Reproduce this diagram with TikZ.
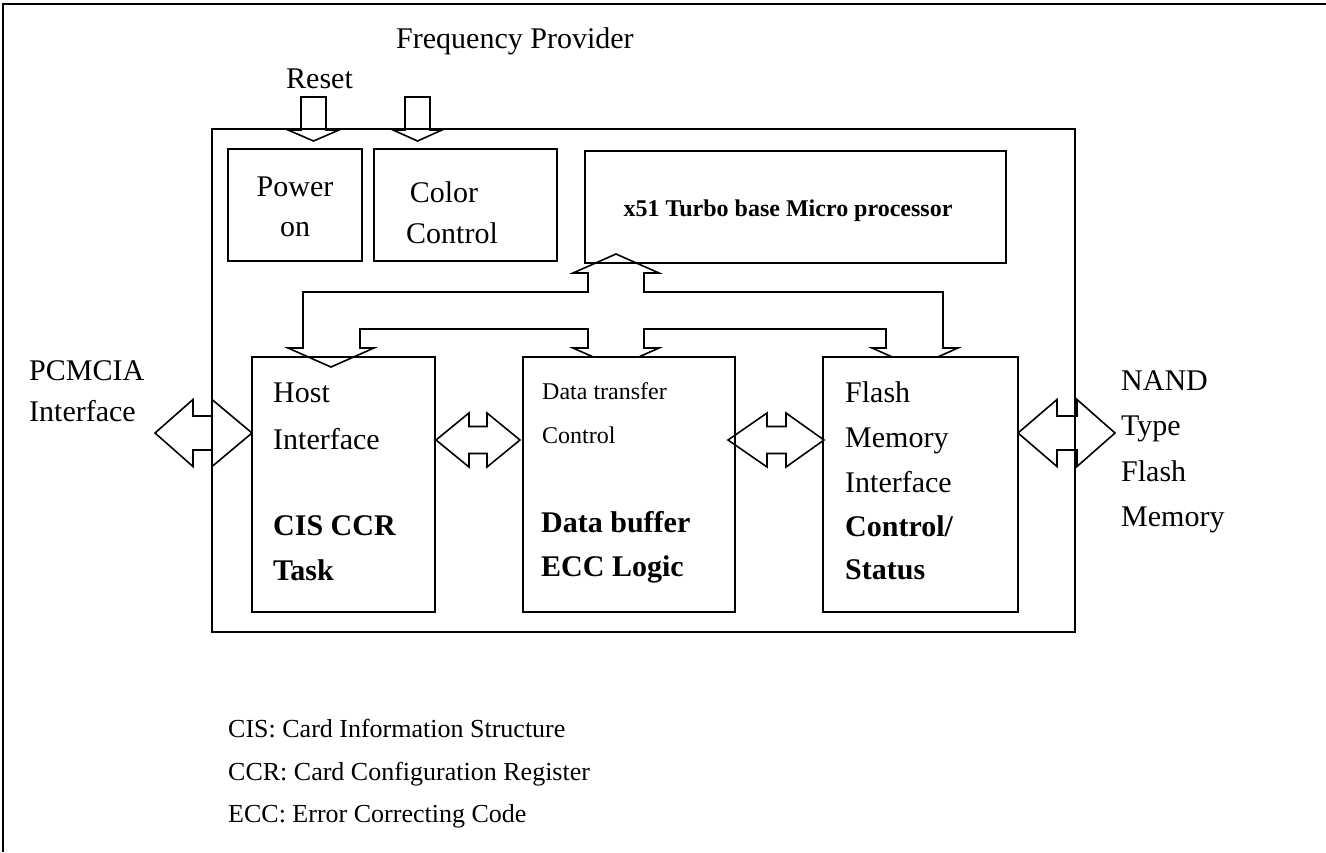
\documentclass[tikz,border=0pt]{standalone}
\usepackage{fontspec}
\setmainfont{Liberation Serif}
\begin{document}
\begin{tikzpicture}[x=1pt,y=-1pt,
  ln/.style={line width=1.6pt, line join=miter},
  box/.style={ln, draw},
  txt/.style={anchor=base west, inner sep=0pt, font=\fontsize{30}{36}\selectfont},
  ctxt/.style={anchor=base, inner sep=0pt, font=\fontsize{30}{36}\selectfont},
  btxt/.style={anchor=base west, inner sep=0pt, font=\fontsize{30}{36}\selectfont\bfseries},
  stxt/.style={anchor=base west, inner sep=0pt, font=\fontsize{24}{29}\selectfont},
  ptxt/.style={anchor=center, inner sep=0pt, font=\fontsize{24}{29}\selectfont\bfseries},
  ltxt/.style={anchor=base west, inner sep=0pt, font=\fontsize{26}{31}\selectfont}]
\useasboundingbox (0,0) rectangle (1326,852);
\fill[white] (0,0) rectangle (1326,852);
% page frame (left and top edges)
\draw[line width=1.6pt] (3,852) -- (3,4) -- (1326,4);
% main frame
\draw[box] (212,129) rectangle (1075,632);
% top boxes
\draw[box] (228,149) rectangle (362,261);
\draw[box] (374,149) rectangle (557,261);
\draw[box] (585,151) rectangle (1006,263);
% internal bus
\draw[ln] (288,348) -- (303,348) -- (303,292) -- (588,292) -- (588,273) -- (573,273)
  -- (616,254) -- (659,273) -- (644,273) -- (644,292) -- (943,292) -- (943,348)
  -- (958,348) -- (915,367) -- (872,348) -- (886,348) -- (886,329) -- (644,329)
  -- (644,348) -- (659,348) -- (616,367) -- (573,348) -- (588,348) -- (588,329)
  -- (360,329) -- (360,348) -- (374,348) -- (331,367) -- cycle;
% lower boxes
\draw[box] (252,357) rectangle (435,612);
\draw[box, fill=white] (523,357) rectangle (735,612);
\draw[box, fill=white] (823,357) rectangle (1018,612);
% input arrows on top
\draw[ln] (301,97) -- (301,130) -- (288,130) -- (313.5,141) -- (339,130) -- (326,130) -- (326,97) -- cycle;
\draw[ln] (405,97) -- (405,130) -- (393,130) -- (417.5,141) -- (442,130) -- (430,130) -- (430,97) -- cycle;
% double arrows
\draw[ln] (155,433) -- (193,399.5) -- (193,416) -- (212,416) -- (212,399.5) -- (252,433)
  -- (212,466.5) -- (212,450) -- (193,450) -- (193,466.5) -- cycle;
\draw[ln] (436,440) -- (469,413) -- (469,426.5) -- (487,426.5) -- (487,413) -- (520,440)
  -- (487,467) -- (487,453.5) -- (469,453.5) -- (469,467) -- cycle;
\draw[ln] (728,440) -- (767,413) -- (767,426.5) -- (786,426.5) -- (786,413) -- (824,440)
  -- (786,467) -- (786,453.5) -- (767,453.5) -- (767,467) -- cycle;
\draw[ln] (1018,433) -- (1057,399.5) -- (1057,416) -- (1077,416) -- (1077,399.5) -- (1115,433)
  -- (1077,466.5) -- (1077,450) -- (1057,450) -- (1057,466.5) -- cycle;
% labels
\node[txt] (reset) at (286,88) {Reset};
\node[txt] (freq) at (396,48) {Frequency Provider};
\node[ctxt] (pw1) at (295,196) {Power};
\node[ctxt] (pw2) at (295,236) {on};
\node[ctxt] (cc1) at (444,202) {Color};
\node[ctxt] (cc2) at (452,243) {Control};
\node[ptxt] (mp) at (788,211) {x51 Turbo base Micro processor};
\node[txt] (h1) at (273,402) {Host};
\node[txt] (h2) at (273,449) {Interface};
\node[btxt] (h3) at (273,535) {CIS CCR};
\node[btxt] (h4) at (273,580) {Task};
\node[stxt] (d1) at (542,399) {Data transfer};
\node[stxt] (d2) at (542,443) {Control};
\node[btxt] (d3) at (541,532) {Data buffer};
\node[btxt] (d4) at (541,576) {ECC Logic};
\node[txt] (f1) at (845,402) {Flash};
\node[txt] (f2) at (845,447) {Memory};
\node[txt] (f3) at (845,492) {Interface};
\node[btxt] (f4) at (845,536) {Control/};
\node[btxt] (f5) at (845,579) {Status};
\node[txt] (p1) at (29,380) {PCMCIA};
\node[txt] (p2) at (29,421) {Interface};
\node[txt] (n1) at (1121,390) {NAND};
\node[txt] (n2) at (1121,435) {Type};
\node[txt] (n3) at (1121,481) {Flash};
\node[txt] (n4) at (1121,526) {Memory};
\node[ltxt] (l1) at (228,737) {CIS: Card Information Structure};
\node[ltxt] (l2) at (228,780) {CCR: Card Configuration Register};
\node[ltxt] (l3) at (228,822) {ECC: Error Correcting Code};
\end{tikzpicture}
\end{document}
